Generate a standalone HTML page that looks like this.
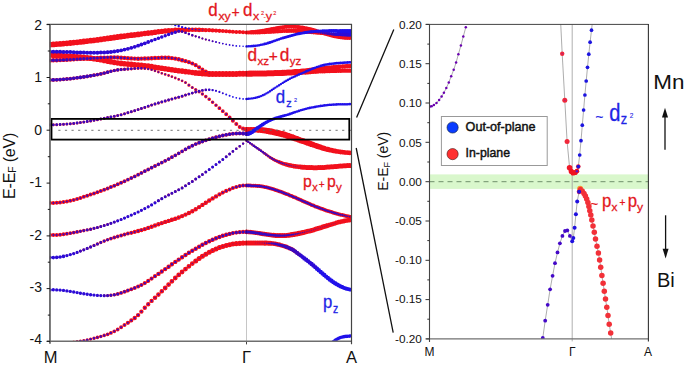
<!DOCTYPE html>
<html><head><meta charset="utf-8"><title>bands</title><style>html,body{margin:0;padding:0;background:#fff}svg{display:block}svg text{font-family:"Liberation Sans",sans-serif}</style></head><body>
<svg width="685" height="367" viewBox="0 0 685 367" font-family="Liberation Sans, sans-serif">
<rect width="100%" height="100%" fill="#fff"/>
<defs><clipPath id="cl"><rect x="49.7" y="24.4" width="302.2" height="316.8"/></clipPath><clipPath id="cr"><rect x="429.5" y="24.4" width="218.9" height="314.5"/></clipPath></defs>
<g clip-path="url(#cl)">
<path d="M236.3 45.9h0M239.7 46.1h0M229.6 95.8h0M250.1 133.1h0M329.7 279.5h0M331.5 280.8h0" stroke="#f2101c" stroke-width="0.4" stroke-linecap="round" fill="none" opacity="1.0"/>
<path d="M232.9 45.4h0M226.2 94.6h0M246.5 133.9h0M248.3 133.8h0M326.1 276.6h0M327.9 278.0h0" stroke="#f2101c" stroke-width="0.6" stroke-linecap="round" fill="none" opacity="1.0"/>
<path d="M229.6 44.9h0M222.8 93.2h0M322.5 273.5h0M324.3 275.0h0" stroke="#f2101c" stroke-width="0.8" stroke-linecap="round" fill="none" opacity="1.0"/>
<path d="M226.2 44.3h0M219.4 91.9h0M351.4 34.8h0M320.7 271.9h0" stroke="#f2101c" stroke-width="1.0" stroke-linecap="round" fill="none" opacity="1.0"/>
<path d="M222.8 43.6h0M216.0 90.8h0M50.0 290.0h0M53.3 289.8h0M56.7 289.9h0M60.1 290.1h0M63.5 290.4h0M66.9 290.9h0M70.3 291.4h0M73.7 292.0h0M349.6 34.8h0M318.8 270.3h0" stroke="#f2101c" stroke-width="1.2" stroke-linecap="round" fill="none" opacity="1.0"/>
<path d="M216.0 42.1h0M219.4 42.8h0M77.1 292.6h0M80.4 293.2h0M346.0 34.7h0M347.8 34.7h0M317.0 268.7h0" stroke="#f2101c" stroke-width="1.4" stroke-linecap="round" fill="none" opacity="1.0"/>
<path d="M212.6 41.2h0M212.6 90.1h0M50.0 257.6h0M53.3 257.6h0M83.8 293.8h0M87.2 294.3h0M344.2 34.6h0M315.2 267.1h0" stroke="#f2101c" stroke-width="1.6" stroke-linecap="round" fill="none" opacity="1.0"/>
<path d="M209.2 40.3h0M56.7 257.4h0M60.1 257.0h0M90.6 294.8h0M342.4 34.6h0M313.4 265.5h0" stroke="#f2101c" stroke-width="1.8" stroke-linecap="round" fill="none" opacity="1.0"/>
<path d="M202.4 38.4h0M205.8 39.4h0M209.2 89.8h0M63.5 256.4h0M94.0 295.1h0M340.5 34.5h0M311.6 264.0h0" stroke="#f2101c" stroke-width="2.0" stroke-linecap="round" fill="none" opacity="1.0"/>
<path d="M195.7 36.3h0M199.1 37.3h0M205.8 89.9h0M66.9 255.6h0M70.3 254.6h0M97.4 295.4h0M338.7 34.4h0M309.8 262.6h0" stroke="#f2101c" stroke-width="2.2" stroke-linecap="round" fill="none" opacity="1.0"/>
<path d="M182.1 31.6h0M185.5 32.8h0M188.9 34.0h0M192.3 35.2h0M199.1 91.2h0M202.4 90.4h0M114.3 222.1h0M117.7 220.8h0M121.1 219.5h0M124.5 218.1h0M127.9 216.6h0M131.3 215.1h0M134.7 213.6h0M138.1 212.0h0M141.4 210.3h0M144.8 208.6h0M148.2 206.8h0M151.6 204.9h0M155.0 202.8h0M202.4 174.4h0M205.8 172.0h0M209.2 169.6h0M212.6 167.1h0M216.0 164.6h0M219.4 162.0h0M222.8 159.4h0M226.2 156.7h0M229.6 154.0h0M232.9 151.4h0M236.3 148.8h0M239.7 146.2h0M243.1 143.6h0M246.5 140.8h0M73.7 253.6h0M100.8 295.6h0M335.1 34.3h0M336.9 34.4h0M246.5 140.7h0M248.3 141.9h0M250.1 143.2h0M251.9 144.4h0M308.0 261.1h0" stroke="#f2101c" stroke-width="2.4" stroke-linecap="round" fill="none" opacity="1.0"/>
<path d="M148.2 42.0h0M151.6 40.8h0M155.0 39.5h0M158.4 38.2h0M161.8 37.0h0M165.2 35.7h0M168.6 34.5h0M171.9 33.3h0M175.3 32.2h0M178.7 31.2h0M195.7 92.1h0M107.6 224.4h0M110.9 223.3h0M158.4 200.7h0M161.8 198.7h0M165.2 196.7h0M168.6 194.9h0M171.9 193.2h0M175.3 191.5h0M178.7 189.8h0M182.1 187.9h0M185.5 185.8h0M188.9 183.6h0M192.3 181.4h0M195.7 179.1h0M199.1 176.8h0M77.1 252.4h0M80.4 251.1h0M104.2 295.7h0M333.3 34.2h0M253.7 145.7h0M255.5 147.0h0M257.4 148.3h0M259.2 149.6h0M261.0 150.8h0M306.2 259.7h0" stroke="#f2101c" stroke-width="2.6" stroke-linecap="round" fill="none" opacity="1.0"/>
<path d="M50.0 51.8h0M53.3 51.8h0M56.7 51.8h0M60.1 51.8h0M63.5 51.9h0M66.9 52.0h0M70.3 52.1h0M73.7 52.3h0M77.1 52.4h0M80.4 52.5h0M83.8 52.6h0M87.2 52.7h0M90.6 52.7h0M94.0 52.7h0M97.4 52.7h0M100.8 52.6h0M104.2 52.4h0M107.6 52.2h0M110.9 51.9h0M114.3 51.5h0M117.7 51.0h0M121.1 50.4h0M124.5 49.6h0M127.9 48.8h0M131.3 47.8h0M134.7 46.8h0M138.1 45.7h0M141.4 44.5h0M144.8 43.3h0M148.2 68.9h0M151.6 69.7h0M155.0 70.8h0M158.4 72.1h0M161.8 73.3h0M165.2 74.4h0M168.6 75.5h0M171.9 76.7h0M175.3 78.0h0M178.7 79.4h0M182.1 80.8h0M188.9 94.1h0M192.3 93.1h0M104.2 225.5h0M83.8 249.8h0M87.2 248.4h0M331.5 34.1h0M262.8 152.1h0M264.6 153.4h0M304.4 258.4h0" stroke="#f2101c" stroke-width="2.8" stroke-linecap="round" fill="none" opacity="1.0"/>
<path d="M141.4 68.2h0M144.8 68.4h0M185.5 82.6h0M50.0 124.9h0M53.3 124.8h0M56.7 124.7h0M60.1 124.5h0M63.5 124.3h0M66.9 124.1h0M70.3 123.8h0M73.7 123.4h0M77.1 123.0h0M80.4 122.6h0M83.8 122.1h0M87.2 121.5h0M90.6 120.9h0M94.0 120.3h0M97.4 119.7h0M100.8 119.0h0M104.2 118.3h0M107.6 117.6h0M110.9 116.9h0M114.3 116.3h0M117.7 115.6h0M121.1 114.8h0M124.5 113.8h0M127.9 112.7h0M131.3 111.7h0M134.7 110.7h0M138.1 109.6h0M141.4 108.5h0M144.8 107.4h0M148.2 106.2h0M151.6 105.1h0M155.0 104.0h0M158.4 103.0h0M161.8 101.9h0M165.2 101.0h0M168.6 100.0h0M171.9 99.1h0M175.3 98.1h0M178.7 97.2h0M182.1 96.2h0M185.5 95.1h0M100.8 226.5h0M90.6 246.9h0M107.6 295.6h0M329.7 33.9h0M266.4 154.7h0M268.2 156.0h0M302.6 257.0h0" stroke="#f2101c" stroke-width="3.0" stroke-linecap="round" fill="none" opacity="1.0"/>
<path d="M131.3 68.8h0M134.7 68.5h0M138.1 68.3h0M188.9 85.2h0M192.3 87.5h0M94.0 228.3h0M97.4 227.5h0M94.0 245.4h0M327.9 33.8h0M270.0 157.3h0M271.8 158.4h0M300.8 255.6h0" stroke="#f2101c" stroke-width="3.2" stroke-linecap="round" fill="none" opacity="1.0"/>
<path d="M121.1 69.5h0M124.5 69.2h0M127.9 69.0h0M195.7 89.6h0M199.1 91.7h0M202.4 94.0h0M87.2 229.9h0M90.6 229.2h0M97.4 243.9h0M100.8 242.5h0M110.9 295.3h0M66.9 343.4h0M70.3 342.7h0M73.7 342.2h0M77.1 341.7h0M80.4 341.2h0M83.8 340.6h0M87.2 339.9h0M90.6 339.1h0M324.3 33.5h0M326.1 33.6h0M273.6 159.5h0M275.4 160.4h0M298.9 254.3h0" stroke="#f2101c" stroke-width="3.4" stroke-linecap="round" fill="none" opacity="1.0"/>
<path d="M110.9 71.3h0M114.3 70.5h0M117.7 69.9h0M205.8 96.6h0M209.2 99.3h0M212.6 102.2h0M216.0 105.2h0M80.4 231.3h0M83.8 230.6h0M104.2 241.1h0M107.6 239.8h0M114.3 294.7h0M94.0 338.3h0M97.4 337.4h0M100.8 336.5h0M104.2 335.4h0M322.5 33.3h0M277.2 161.3h0M297.1 252.9h0" stroke="#f2101c" stroke-width="3.6" stroke-linecap="round" fill="none" opacity="1.0"/>
<path d="M50.0 80.0h0M53.3 79.9h0M56.7 79.8h0M60.1 79.6h0M63.5 79.3h0M66.9 79.0h0M70.3 78.7h0M73.7 78.3h0M77.1 77.8h0M80.4 77.4h0M83.8 76.9h0M87.2 76.4h0M90.6 75.8h0M94.0 75.2h0M97.4 74.6h0M100.8 73.9h0M104.2 73.1h0M107.6 72.2h0M219.4 108.2h0M222.8 111.2h0M127.9 179.7h0M131.3 178.0h0M134.7 176.4h0M138.1 174.7h0M141.4 172.9h0M144.8 171.2h0M148.2 169.5h0M151.6 167.7h0M155.0 166.0h0M158.4 164.3h0M161.8 162.6h0M165.2 160.8h0M168.6 159.1h0M171.9 157.2h0M175.3 155.3h0M178.7 153.3h0M182.1 151.3h0M185.5 149.3h0M188.9 147.4h0M192.3 145.7h0M195.7 144.1h0M199.1 142.7h0M202.4 141.5h0M205.8 140.3h0M209.2 139.2h0M212.6 138.2h0M216.0 137.2h0M219.4 136.3h0M222.8 135.5h0M226.2 134.8h0M229.6 134.2h0M232.9 133.7h0M236.3 133.5h0M239.7 133.4h0M243.1 133.5h0M246.5 133.8h0M70.3 233.2h0M73.7 232.6h0M77.1 231.9h0M110.9 238.6h0M114.3 237.5h0M117.7 236.5h0M117.7 293.9h0M121.1 292.9h0M107.6 334.3h0M110.9 332.9h0M114.3 331.3h0M117.7 329.5h0M318.8 32.9h0M320.7 33.1h0M279.1 162.0h0" stroke="#f2101c" stroke-width="3.8" stroke-linecap="round" fill="none" opacity="1.0"/>
<path d="M222.8 31.0h0M226.2 31.2h0M229.6 31.4h0M232.9 31.7h0M236.3 31.9h0M239.7 32.1h0M243.1 32.3h0M246.5 32.4h0M202.4 69.4h0M205.8 71.5h0M209.2 73.1h0M226.2 114.2h0M229.6 117.4h0M232.9 120.8h0M236.3 124.1h0M239.7 126.9h0M50.0 203.0h0M53.3 203.0h0M56.7 202.8h0M60.1 202.5h0M63.5 202.0h0M66.9 201.4h0M70.3 200.7h0M73.7 199.9h0M77.1 198.9h0M80.4 197.9h0M83.8 196.8h0M87.2 195.7h0M90.6 194.5h0M94.0 193.4h0M97.4 192.2h0M100.8 190.9h0M104.2 189.7h0M107.6 188.5h0M110.9 187.1h0M114.3 185.8h0M117.7 184.3h0M121.1 182.8h0M124.5 181.3h0M50.0 235.0h0M53.3 235.1h0M56.7 235.0h0M60.1 234.7h0M63.5 234.3h0M66.9 233.8h0M121.1 235.5h0M124.5 234.5h0M127.9 233.6h0M229.6 189.4h0M232.9 188.0h0M236.3 186.9h0M239.7 186.1h0M243.1 185.6h0M246.5 185.5h0M124.5 291.7h0M127.9 290.4h0M131.3 289.2h0M134.7 287.9h0M121.1 327.3h0M124.5 325.1h0M246.5 32.4h0M248.3 32.4h0M250.1 32.3h0M246.5 32.6h0M248.3 32.6h0M250.1 32.6h0M251.9 32.6h0M253.7 32.6h0M255.5 32.5h0M257.4 32.5h0M259.2 32.4h0M261.0 32.3h0M262.8 32.3h0M264.6 32.2h0M266.4 32.1h0M268.2 32.0h0M270.0 31.9h0M271.8 31.8h0M273.6 31.7h0M275.4 31.6h0M277.2 31.4h0M279.1 31.3h0M280.9 31.2h0M282.7 31.1h0M284.5 31.0h0M286.3 30.9h0M315.2 32.5h0M317.0 32.7h0M280.9 162.8h0M282.7 163.4h0M246.5 185.5h0M248.3 185.5h0M250.1 185.6h0M251.9 185.7h0M253.7 185.7h0M255.5 185.8h0M257.4 186.0h0M259.2 186.1h0M261.0 186.3h0M262.8 186.6h0M264.6 186.9h0M266.4 187.3h0M268.2 187.7h0M270.0 188.2h0M271.8 188.7h0M273.6 189.3h0M275.4 189.9h0M277.2 190.5h0M279.1 191.2h0M280.9 191.8h0M282.7 192.5h0M284.5 193.2h0M286.3 193.9h0M288.1 194.6h0M289.9 195.4h0M291.7 196.1h0M293.5 196.9h0M295.3 197.6h0M297.1 198.4h0M298.9 199.3h0M300.8 200.1h0M302.6 200.9h0M304.4 201.7h0M306.2 202.5h0M308.0 203.3h0M309.8 204.1h0M311.6 204.9h0M313.4 205.6h0M315.2 206.4h0M317.0 207.1h0M318.8 207.8h0M320.7 208.4h0M322.5 209.1h0M324.3 209.8h0M326.1 210.4h0M327.9 211.0h0M329.7 211.6h0M331.5 212.1h0M333.3 212.7h0M335.1 213.2h0M336.9 213.7h0M338.7 214.2h0M340.5 214.7h0M342.4 215.1h0M344.2 215.5h0M346.0 215.9h0M347.8 216.3h0M349.6 216.7h0M351.4 217.0h0M295.3 251.5h0" stroke="#f2101c" stroke-width="4.0" stroke-linecap="round" fill="none" opacity="1.0"/>
<path d="M209.2 30.2h0M212.6 30.4h0M216.0 30.6h0M219.4 30.8h0M94.0 58.1h0M97.4 57.9h0M100.8 57.7h0M104.2 57.6h0M107.6 57.5h0M188.9 62.2h0M192.3 63.5h0M195.7 65.2h0M199.1 67.3h0M243.1 128.7h0M131.3 232.8h0M134.7 231.9h0M219.4 194.4h0M222.8 192.6h0M226.2 190.9h0M138.1 286.5h0M141.4 285.0h0M144.8 283.1h0M148.2 280.9h0M151.6 278.6h0M155.0 276.2h0M232.9 233.1h0M236.3 232.6h0M239.7 232.2h0M243.1 231.9h0M246.5 231.9h0M127.9 322.8h0M131.3 320.4h0M251.9 32.2h0M253.7 32.1h0M255.5 31.9h0M257.4 31.7h0M259.2 31.4h0M261.0 31.2h0M262.8 30.9h0M264.6 30.6h0M266.4 30.2h0M268.2 29.9h0M270.0 29.6h0M271.8 29.2h0M273.6 28.9h0M275.4 28.6h0M277.2 28.2h0M279.1 27.9h0M280.9 27.6h0M282.7 27.3h0M284.5 27.0h0M286.3 26.8h0M288.1 26.6h0M289.9 26.6h0M291.7 26.6h0M293.5 26.7h0M295.3 26.8h0M297.1 27.0h0M298.9 27.2h0M300.8 27.5h0M302.6 27.7h0M304.4 28.1h0M306.2 28.4h0M308.0 28.8h0M309.8 29.2h0M311.6 29.7h0M313.4 30.2h0M315.2 30.7h0M317.0 31.3h0M318.8 31.8h0M320.7 32.4h0M322.5 32.9h0M324.3 33.5h0M326.1 34.0h0M327.9 34.5h0M329.7 35.0h0M331.5 35.4h0M333.3 35.9h0M335.1 36.3h0M336.9 36.6h0M338.7 37.0h0M340.5 37.2h0M342.4 37.5h0M344.2 37.7h0M346.0 37.8h0M347.8 37.9h0M349.6 37.9h0M351.4 37.9h0M288.1 30.9h0M289.9 30.8h0M291.7 30.8h0M293.5 30.8h0M295.3 30.8h0M309.8 31.9h0M311.6 32.1h0M313.4 32.3h0M340.5 66.6h0M342.4 66.4h0M344.2 66.3h0M346.0 66.2h0M347.8 66.2h0M349.6 66.1h0M351.4 66.1h0M342.4 70.7h0M344.2 70.7h0M346.0 70.7h0M347.8 70.7h0M349.6 70.7h0M351.4 70.7h0M284.5 164.0h0M291.7 249.2h0M293.5 250.3h0" stroke="#f2101c" stroke-width="4.2" stroke-linecap="round" fill="none" opacity="1.0"/>
<path d="M202.4 29.9h0M205.8 30.1h0M50.0 60.4h0M53.3 60.3h0M56.7 60.2h0M60.1 60.1h0M63.5 59.9h0M66.9 59.7h0M70.3 59.5h0M73.7 59.3h0M77.1 59.1h0M80.4 58.9h0M83.8 58.7h0M87.2 58.5h0M90.6 58.3h0M110.9 57.4h0M114.3 57.4h0M117.7 57.5h0M121.1 57.7h0M124.5 57.9h0M127.9 58.2h0M131.3 58.4h0M134.7 58.6h0M138.1 58.7h0M141.4 58.6h0M144.8 58.5h0M148.2 58.4h0M151.6 58.2h0M155.0 58.0h0M158.4 57.9h0M161.8 57.7h0M165.2 57.7h0M168.6 57.8h0M171.9 58.1h0M175.3 58.6h0M178.7 59.3h0M182.1 60.2h0M185.5 61.1h0M138.1 231.0h0M141.4 230.1h0M144.8 229.1h0M148.2 227.9h0M151.6 226.8h0M155.0 225.5h0M158.4 224.3h0M161.8 223.1h0M165.2 221.9h0M168.6 220.9h0M171.9 219.8h0M175.3 218.7h0M178.7 217.5h0M182.1 216.1h0M185.5 214.6h0M188.9 213.0h0M192.3 211.2h0M195.7 209.2h0M199.1 207.1h0M202.4 204.9h0M205.8 202.7h0M209.2 200.5h0M212.6 198.4h0M216.0 196.4h0M158.4 273.9h0M161.8 271.5h0M165.2 269.1h0M168.6 266.7h0M171.9 264.3h0M175.3 261.9h0M178.7 259.6h0M182.1 257.3h0M185.5 255.0h0M188.9 252.8h0M192.3 250.7h0M195.7 248.7h0M199.1 246.7h0M202.4 244.8h0M205.8 243.0h0M209.2 241.3h0M212.6 239.7h0M216.0 238.3h0M219.4 237.0h0M222.8 235.8h0M226.2 234.8h0M229.6 233.9h0M134.7 318.0h0M138.1 315.1h0M141.4 311.6h0M144.8 307.8h0M148.2 304.2h0M151.6 300.9h0M297.1 30.9h0M298.9 31.0h0M300.8 31.1h0M302.6 31.2h0M304.4 31.3h0M306.2 31.5h0M308.0 31.7h0M329.7 67.7h0M331.5 67.5h0M333.3 67.3h0M335.1 67.1h0M336.9 66.9h0M338.7 66.7h0M326.1 71.1h0M327.9 71.0h0M329.7 71.0h0M331.5 70.9h0M333.3 70.9h0M335.1 70.9h0M336.9 70.8h0M338.7 70.8h0M340.5 70.8h0M286.3 164.5h0M288.1 165.0h0M288.1 247.6h0M289.9 248.4h0" stroke="#f2101c" stroke-width="4.4" stroke-linecap="round" fill="none" opacity="1.0"/>
<path d="M192.3 29.8h0M195.7 29.8h0M199.1 29.9h0M246.5 129.6h0M155.0 297.8h0M158.4 294.6h0M161.8 291.3h0M324.3 68.4h0M326.1 68.2h0M327.9 67.9h0M318.8 71.3h0M320.7 71.3h0M322.5 71.2h0M324.3 71.2h0M289.9 165.4h0M291.7 165.8h0M293.5 166.1h0M246.5 231.9h0M248.3 232.0h0M250.1 232.1h0M251.9 232.3h0M253.7 232.5h0M255.5 232.8h0M257.4 233.0h0M259.2 233.3h0M280.9 245.2h0M282.7 245.7h0M284.5 246.3h0M286.3 246.9h0" stroke="#f2101c" stroke-width="4.6" stroke-linecap="round" fill="none" opacity="1.0"/>
<path d="M185.5 29.9h0M188.9 29.8h0M165.2 288.0h0M168.6 284.6h0M171.9 281.3h0M175.3 278.0h0M178.7 274.9h0M182.1 272.0h0M185.5 269.1h0M188.9 266.3h0M192.3 263.6h0M318.8 69.2h0M320.7 68.9h0M322.5 68.7h0M313.4 71.6h0M315.2 71.5h0M317.0 71.4h0M336.9 151.4h0M338.7 151.7h0M340.5 152.0h0M342.4 152.2h0M344.2 152.4h0M346.0 152.6h0M347.8 152.7h0M349.6 152.8h0M351.4 152.9h0M295.3 166.4h0M297.1 166.6h0M298.9 166.8h0M300.8 167.0h0M261.0 233.6h0M262.8 233.9h0M264.6 234.1h0M266.4 234.4h0M268.2 234.7h0M270.0 234.9h0M271.8 235.1h0M327.9 225.5h0M329.7 224.9h0M331.5 224.4h0M333.3 223.8h0M335.1 223.3h0M336.9 222.7h0M338.7 222.2h0M340.5 221.8h0M342.4 221.3h0M344.2 221.0h0M346.0 220.6h0M347.8 220.3h0M349.6 220.1h0M351.4 220.0h0M271.8 243.4h0M273.6 243.6h0M275.4 243.9h0M277.2 244.3h0M279.1 244.7h0" stroke="#f2101c" stroke-width="4.8" stroke-linecap="round" fill="none" opacity="1.0"/>
<path d="M178.7 30.1h0M182.1 30.0h0M195.7 261.0h0M199.1 258.6h0M202.4 256.3h0M205.8 254.2h0M209.2 252.2h0M212.6 250.4h0M216.0 248.9h0M219.4 247.5h0M222.8 246.4h0M226.2 245.4h0M229.6 244.7h0M232.9 244.1h0M315.2 69.7h0M317.0 69.4h0M311.6 71.6h0M246.5 129.5h0M329.7 149.9h0M331.5 150.3h0M333.3 150.7h0M335.1 151.1h0M302.6 167.2h0M304.4 167.3h0M306.2 167.4h0M308.0 167.5h0M309.8 167.6h0M311.6 167.6h0M313.4 167.7h0M315.2 167.7h0M317.0 167.7h0M318.8 167.6h0M320.7 167.6h0M322.5 167.5h0M324.3 167.4h0M326.1 167.3h0M327.9 167.1h0M329.7 167.0h0M331.5 166.8h0M333.3 166.7h0M335.1 166.5h0M336.9 166.4h0M338.7 166.2h0M340.5 166.1h0M342.4 165.9h0M344.2 165.8h0M346.0 165.7h0M347.8 165.6h0M349.6 165.5h0M351.4 165.5h0M273.6 235.3h0M275.4 235.4h0M277.2 235.5h0M279.1 235.6h0M280.9 235.6h0M282.7 235.6h0M284.5 235.5h0M286.3 235.4h0M288.1 235.2h0M304.4 232.2h0M306.2 231.8h0M308.0 231.3h0M309.8 230.9h0M311.6 230.4h0M313.4 229.9h0M315.2 229.3h0M317.0 228.8h0M318.8 228.3h0M320.7 227.7h0M322.5 227.1h0M324.3 226.6h0M326.1 226.0h0M266.4 243.1h0M268.2 243.2h0M270.0 243.3h0" stroke="#f2101c" stroke-width="5.0" stroke-linecap="round" fill="none" opacity="1.0"/>
<path d="M168.6 30.7h0M171.9 30.5h0M175.3 30.2h0M236.3 243.6h0M239.7 243.3h0M243.1 243.1h0M246.5 243.0h0M311.6 70.2h0M313.4 69.9h0M306.2 71.9h0M308.0 71.8h0M309.8 71.7h0M248.3 129.5h0M250.1 129.5h0M324.3 148.4h0M326.1 149.0h0M327.9 149.4h0M289.9 235.0h0M291.7 234.7h0M293.5 234.4h0M295.3 234.1h0M297.1 233.8h0M298.9 233.4h0M300.8 233.0h0M302.6 232.6h0M246.5 243.0h0M248.3 243.0h0M250.1 243.0h0M251.9 243.0h0M253.7 243.0h0M255.5 243.0h0M257.4 243.0h0M259.2 243.0h0M261.0 243.0h0M262.8 243.0h0M264.6 243.1h0" stroke="#f2101c" stroke-width="5.2" stroke-linecap="round" fill="none" opacity="1.0"/>
<path d="M158.4 31.8h0M161.8 31.4h0M165.2 31.0h0M304.4 71.1h0M306.2 70.9h0M308.0 70.7h0M309.8 70.4h0M300.8 72.1h0M302.6 72.0h0M304.4 71.9h0M251.9 129.6h0M253.7 129.6h0M318.8 146.7h0M320.7 147.3h0M322.5 147.9h0" stroke="#f2101c" stroke-width="5.4" stroke-linecap="round" fill="none" opacity="1.0"/>
<path d="M141.4 34.0h0M144.8 33.5h0M148.2 33.1h0M151.6 32.7h0M155.0 32.3h0M94.0 58.7h0M97.4 59.2h0M100.8 59.8h0M104.2 60.4h0M107.6 61.1h0M110.9 61.8h0M114.3 62.5h0M117.7 63.0h0M121.1 63.4h0M124.5 63.7h0M127.9 64.1h0M131.3 64.4h0M134.7 64.7h0M138.1 65.0h0M141.4 65.3h0M144.8 65.7h0M148.2 66.1h0M151.6 66.6h0M155.0 67.2h0M158.4 67.7h0M161.8 68.2h0M165.2 68.8h0M168.6 69.3h0M171.9 69.8h0M175.3 70.2h0M178.7 70.7h0M182.1 71.1h0M185.5 71.6h0M188.9 72.0h0M192.3 72.5h0M297.1 71.8h0M298.9 71.7h0M300.8 71.5h0M302.6 71.3h0M295.3 72.4h0M297.1 72.3h0M298.9 72.2h0M255.5 129.7h0M257.4 129.8h0M313.4 144.8h0M315.2 145.5h0M317.0 146.1h0" stroke="#f2101c" stroke-width="5.6" stroke-linecap="round" fill="none" opacity="1.0"/>
<path d="M50.0 44.6h0M53.3 44.4h0M56.7 44.1h0M60.1 43.9h0M63.5 43.6h0M66.9 43.3h0M70.3 43.0h0M73.7 42.6h0M77.1 42.3h0M80.4 41.9h0M83.8 41.5h0M87.2 41.1h0M90.6 40.7h0M94.0 40.3h0M97.4 39.9h0M100.8 39.4h0M104.2 38.9h0M107.6 38.4h0M110.9 38.0h0M114.3 37.5h0M117.7 37.0h0M121.1 36.5h0M124.5 36.1h0M127.9 35.6h0M131.3 35.2h0M134.7 34.8h0M138.1 34.4h0M50.0 54.9h0M53.3 55.2h0M56.7 55.4h0M60.1 55.7h0M63.5 55.9h0M66.9 56.1h0M70.3 56.4h0M73.7 56.6h0M77.1 56.9h0M80.4 57.2h0M83.8 57.5h0M87.2 57.8h0M90.6 58.2h0M195.7 72.9h0M199.1 73.2h0M202.4 73.5h0M205.8 73.7h0M284.5 72.7h0M286.3 72.6h0M288.1 72.5h0M289.9 72.4h0M291.7 72.3h0M293.5 72.1h0M295.3 72.0h0M284.5 72.8h0M286.3 72.8h0M288.1 72.7h0M289.9 72.6h0M291.7 72.5h0M293.5 72.4h0M259.2 129.9h0M261.0 130.1h0M304.4 141.6h0M306.2 142.3h0M308.0 142.9h0M309.8 143.5h0M311.6 144.2h0" stroke="#f2101c" stroke-width="5.8" stroke-linecap="round" fill="none" opacity="1.0"/>
<path d="M209.2 73.9h0M212.6 74.0h0M216.0 74.0h0M219.4 74.0h0M222.8 74.1h0M226.2 74.0h0M229.6 74.0h0M232.9 74.0h0M236.3 73.9h0M239.7 73.8h0M243.1 73.8h0M246.5 73.7h0M246.5 73.7h0M248.3 73.7h0M250.1 73.6h0M251.9 73.6h0M253.7 73.6h0M255.5 73.6h0M257.4 73.5h0M259.2 73.5h0M261.0 73.5h0M262.8 73.5h0M264.6 73.4h0M266.4 73.4h0M268.2 73.3h0M270.0 73.3h0M271.8 73.2h0M273.6 73.2h0M275.4 73.1h0M277.2 73.1h0M279.1 73.0h0M280.9 72.9h0M282.7 72.8h0M246.5 73.7h0M248.3 73.7h0M250.1 73.7h0M251.9 73.7h0M253.7 73.6h0M255.5 73.6h0M257.4 73.6h0M259.2 73.5h0M261.0 73.5h0M262.8 73.5h0M264.6 73.4h0M266.4 73.4h0M268.2 73.3h0M270.0 73.3h0M271.8 73.2h0M273.6 73.2h0M275.4 73.1h0M277.2 73.1h0M279.1 73.0h0M280.9 73.0h0M282.7 72.9h0M262.8 130.2h0M264.6 130.5h0M266.4 130.7h0M293.5 137.8h0M295.3 138.5h0M297.1 139.1h0M298.9 139.8h0M300.8 140.4h0M302.6 141.0h0" stroke="#f2101c" stroke-width="6.0" stroke-linecap="round" fill="none" opacity="1.0"/>
<path d="M268.2 131.0h0M270.0 131.4h0M271.8 131.7h0M273.6 132.1h0M275.4 132.5h0M277.2 132.9h0M279.1 133.3h0M280.9 133.8h0M282.7 134.2h0M284.5 134.7h0M286.3 135.3h0M288.1 135.9h0M289.9 136.5h0M291.7 137.1h0" stroke="#f2101c" stroke-width="6.2" stroke-linecap="round" fill="none" opacity="1.0"/>
<path d="M202.4 30.0h0" stroke="#2010ea" stroke-width="1.0" stroke-linecap="round" fill="none" opacity="1"/>
<path d="M199.1 29.8h0" stroke="#2010ea" stroke-width="1.4" stroke-linecap="round" fill="none" opacity="1"/>
<path d="M239.7 46.1h0M243.1 46.3h0M246.5 46.4h0M195.7 29.6h0" stroke="#2010ea" stroke-width="1.6" stroke-linecap="round" fill="none" opacity="1"/>
<path d="M236.3 45.9h0M192.3 29.1h0M232.9 96.9h0M236.3 97.8h0M239.7 98.5h0M243.1 98.9h0M246.5 99.0h0" stroke="#2010ea" stroke-width="1.8" stroke-linecap="round" fill="none" opacity="1"/>
<path d="M188.9 28.4h0M226.2 94.6h0M229.6 95.8h0" stroke="#2010ea" stroke-width="2.0" stroke-linecap="round" fill="none" opacity="1"/>
<path d="M185.5 27.9h0" stroke="#2010ea" stroke-width="2.2" stroke-linecap="round" fill="none" opacity="1"/>
<path d="M171.9 24.0h0M175.3 25.0h0M178.7 26.0h0M182.1 27.1h0M246.5 46.4h0M248.3 46.3h0M246.5 99.0h0M248.3 98.8h0M250.1 98.6h0M251.9 98.4h0M253.7 98.1h0M255.5 97.7h0M257.4 97.3h0M259.2 96.7h0M261.0 96.1h0M262.8 95.3h0M264.6 94.5h0M266.4 93.4h0M268.2 92.4h0M270.0 91.2h0M271.8 90.0h0M273.6 88.8h0M275.4 87.6h0M277.2 86.4h0M279.1 85.3h0M280.9 84.1h0M282.7 82.9h0M284.5 81.8h0M286.3 80.7h0M288.1 79.7h0M289.9 78.7h0M291.7 77.8h0M293.5 77.0h0M295.3 76.2h0M297.1 75.4h0" stroke="#2010ea" stroke-width="2.4" stroke-linecap="round" fill="none" opacity="1"/>
<path d="M250.1 46.2h0M251.9 46.1h0M253.7 45.9h0M255.5 45.7h0M257.4 45.5h0M259.2 45.2h0M261.0 44.8h0M262.8 44.5h0M298.9 74.6h0M300.8 73.8h0M302.6 73.0h0M304.4 72.2h0M306.2 71.4h0M308.0 70.6h0M309.8 69.9h0M311.6 69.1h0M313.4 68.4h0M315.2 67.7h0M317.0 67.0h0M318.8 66.5h0M297.1 111.5h0M298.9 110.9h0M300.8 110.3h0M302.6 109.7h0M304.4 109.2h0M306.2 108.8h0M308.0 108.3h0M309.8 107.9h0M311.6 107.5h0M313.4 107.2h0M315.2 106.9h0M317.0 106.5h0M318.8 106.2h0M320.7 105.9h0M322.5 105.7h0M324.3 105.4h0M326.1 105.2h0M327.9 105.0h0M329.7 104.8h0M331.5 104.7h0M333.3 104.6h0M335.1 104.5h0M336.9 104.4h0M338.7 104.3h0M340.5 104.3h0M342.4 104.3h0M344.2 104.2h0M346.0 104.2h0M347.8 104.2h0M349.6 104.1h0M351.4 104.1h0" stroke="#2010ea" stroke-width="2.6" stroke-linecap="round" fill="none" opacity="1"/>
<path d="M264.6 44.0h0M266.4 43.6h0M268.2 43.0h0M270.0 42.5h0M271.8 41.9h0M273.6 41.2h0M275.4 40.6h0M277.2 39.9h0M279.1 39.3h0M280.9 38.6h0M320.7 65.9h0M322.5 65.4h0M324.3 65.0h0M326.1 64.6h0M327.9 64.3h0M329.7 64.0h0M331.5 63.8h0M333.3 63.6h0M335.1 63.4h0M336.9 63.2h0M338.7 63.1h0M340.5 62.9h0M342.4 62.8h0M344.2 62.7h0M346.0 62.6h0M347.8 62.5h0M349.6 62.3h0M286.3 115.1h0M288.1 114.6h0M289.9 114.0h0M291.7 113.4h0M293.5 112.7h0M295.3 112.1h0" stroke="#2010ea" stroke-width="2.8" stroke-linecap="round" fill="none" opacity="1"/>
<path d="M282.7 38.1h0M284.5 37.5h0M286.3 37.0h0M288.1 36.5h0M289.9 36.0h0M291.7 35.5h0M293.5 35.0h0M295.3 34.5h0M297.1 34.1h0M351.4 62.2h0M279.1 117.0h0M280.9 116.5h0M282.7 116.0h0M284.5 115.6h0" stroke="#2010ea" stroke-width="3.0" stroke-linecap="round" fill="none" opacity="1"/>
<path d="M298.9 33.7h0M300.8 33.3h0M302.6 33.0h0M304.4 32.7h0M306.2 32.4h0M308.0 32.1h0M309.8 31.9h0M273.6 118.9h0M275.4 118.2h0M277.2 117.6h0" stroke="#2010ea" stroke-width="3.2" stroke-linecap="round" fill="none" opacity="1"/>
<path d="M311.6 31.7h0M313.4 31.6h0M315.2 31.4h0M268.2 121.3h0M270.0 120.4h0M271.8 119.6h0" stroke="#2010ea" stroke-width="3.4" stroke-linecap="round" fill="none" opacity="1"/>
<path d="M317.0 31.3h0M318.8 31.2h0M320.7 31.2h0M322.5 31.1h0M264.6 123.3h0M266.4 122.3h0M331.5 343.2h0M333.3 341.7h0M335.1 340.4h0M336.9 339.2h0M338.7 338.2h0M340.5 337.5h0M342.4 337.0h0M344.2 336.6h0M346.0 336.4h0M347.8 336.2h0M349.6 336.1h0M351.4 335.9h0" stroke="#2010ea" stroke-width="3.6" stroke-linecap="round" fill="none" opacity="1"/>
<path d="M324.3 31.1h0M326.1 31.1h0M327.9 31.1h0M259.2 126.8h0M261.0 125.6h0M262.8 124.4h0" stroke="#2010ea" stroke-width="3.8" stroke-linecap="round" fill="none" opacity="1"/>
<path d="M349.6 34.8h0M351.4 34.8h0M329.7 31.1h0M331.5 31.1h0M333.3 31.1h0M335.1 31.1h0M336.9 31.1h0M338.7 31.2h0M255.5 129.5h0M257.4 128.1h0M347.8 289.1h0M349.6 289.5h0M351.4 289.8h0" stroke="#2010ea" stroke-width="4.0" stroke-linecap="round" fill="none" opacity="1"/>
<path d="M340.5 31.2h0M342.4 31.2h0M344.2 31.2h0M346.0 31.2h0M347.8 31.2h0M349.6 31.2h0M351.4 31.2h0M246.5 133.9h0M253.7 130.8h0M336.9 284.4h0M338.7 285.4h0M340.5 286.4h0M342.4 287.2h0M344.2 288.0h0M346.0 288.6h0" stroke="#2010ea" stroke-width="4.2" stroke-linecap="round" fill="none" opacity="1"/>
<path d="M248.3 133.8h0M250.1 133.1h0M251.9 132.1h0M317.0 268.7h0M318.8 270.3h0M320.7 271.9h0M322.5 273.5h0M324.3 275.0h0M326.1 276.6h0M327.9 278.0h0M329.7 279.5h0M331.5 280.8h0M333.3 282.1h0M335.1 283.3h0" stroke="#2010ea" stroke-width="4.4" stroke-linecap="round" fill="none" opacity="1"/>
<path d="M219.4 42.8h0M222.8 43.6h0M226.2 44.3h0M229.6 44.9h0M232.9 45.4h0" stroke="#2c0ad6" stroke-width="1.8" stroke-linecap="round" fill="none" opacity="1"/>
<path d="M216.0 42.1h0M222.8 93.2h0" stroke="#2c0ad6" stroke-width="2.0" stroke-linecap="round" fill="none" opacity="1"/>
<path d="M216.0 90.8h0M219.4 91.9h0" stroke="#2c0ad6" stroke-width="2.2" stroke-linecap="round" fill="none" opacity="1"/>
<path d="M212.6 90.1h0" stroke="#2c0ad6" stroke-width="2.4" stroke-linecap="round" fill="none" opacity="1"/>
<path d="M209.2 89.8h0" stroke="#2c0ad6" stroke-width="2.6" stroke-linecap="round" fill="none" opacity="1"/>
<path d="M209.2 169.6h0M212.6 167.1h0M216.0 164.6h0M219.4 162.0h0M222.8 159.4h0" stroke="#2c0ad6" stroke-width="3.0" stroke-linecap="round" fill="none" opacity="1"/>
<path d="M117.7 220.8h0M121.1 219.5h0M124.5 218.1h0M127.9 216.6h0M131.3 215.1h0M134.7 213.6h0M138.1 212.0h0M141.4 210.3h0M144.8 208.6h0M148.2 206.8h0M151.6 204.9h0M155.0 202.8h0M77.1 252.4h0M97.4 295.4h0M100.8 295.6h0M335.1 34.3h0" stroke="#2c0ad6" stroke-width="3.2" stroke-linecap="round" fill="none" opacity="1"/>
<path d="M165.2 35.7h0M168.6 34.5h0M171.9 33.3h0M175.3 32.2h0M66.9 255.6h0M70.3 254.6h0M73.7 253.6h0M50.0 290.0h0M53.3 289.8h0M56.7 289.9h0M60.1 290.1h0M63.5 290.4h0M66.9 290.9h0M70.3 291.4h0M73.7 292.0h0M77.1 292.6h0M80.4 293.2h0M83.8 293.8h0M87.2 294.3h0M90.6 294.8h0M94.0 295.1h0M336.9 34.4h0" stroke="#2c0ad6" stroke-width="3.4" stroke-linecap="round" fill="none" opacity="1"/>
<path d="M151.6 40.8h0M155.0 39.5h0M158.4 38.2h0M161.8 37.0h0M50.0 257.6h0M53.3 257.6h0M56.7 257.4h0M60.1 257.0h0M63.5 256.4h0M338.7 34.4h0M340.5 34.5h0" stroke="#2c0ad6" stroke-width="3.6" stroke-linecap="round" fill="none" opacity="1"/>
<path d="M117.7 51.0h0M121.1 50.4h0M124.5 49.6h0M127.9 48.8h0M131.3 47.8h0M134.7 46.8h0M138.1 45.7h0M141.4 44.5h0M144.8 43.3h0M148.2 42.0h0M342.4 34.6h0M344.2 34.6h0M346.0 34.7h0" stroke="#2c0ad6" stroke-width="3.8" stroke-linecap="round" fill="none" opacity="1"/>
<path d="M50.0 51.8h0M53.3 51.8h0M56.7 51.8h0M60.1 51.8h0M63.5 51.9h0M66.9 52.0h0M70.3 52.1h0M73.7 52.3h0M77.1 52.4h0M80.4 52.5h0M83.8 52.6h0M87.2 52.7h0M90.6 52.7h0M94.0 52.7h0M97.4 52.7h0M100.8 52.6h0M104.2 52.4h0M107.6 52.2h0M110.9 51.9h0M114.3 51.5h0M347.8 34.7h0" stroke="#2c0ad6" stroke-width="4.0" stroke-linecap="round" fill="none" opacity="1"/>
<path d="M300.8 255.6h0M302.6 257.0h0" stroke="#2c0ad6" stroke-width="4.2" stroke-linecap="round" fill="none" opacity="1"/>
<path d="M304.4 258.4h0M306.2 259.7h0M308.0 261.1h0M309.8 262.6h0M311.6 264.0h0M313.4 265.5h0M315.2 267.1h0" stroke="#2c0ad6" stroke-width="4.4" stroke-linecap="round" fill="none" opacity="1"/>
<path d="M236.3 243.6h0M239.7 243.3h0M309.8 31.9h0M298.9 166.8h0M300.8 167.0h0M327.9 225.5h0M329.7 224.9h0M331.5 224.4h0M333.3 223.8h0M335.1 223.3h0M255.5 243.0h0M257.4 243.0h0" stroke="#3a08be" stroke-width="0.4" stroke-linecap="round" fill="none" opacity="1"/>
<path d="M246.5 129.6h0M226.2 245.4h0M229.6 244.7h0M232.9 244.1h0M311.6 32.1h0M297.1 166.6h0M317.0 228.8h0M318.8 228.3h0M320.7 227.7h0M322.5 227.1h0M324.3 226.6h0M326.1 226.0h0M259.2 243.0h0M261.0 243.0h0" stroke="#3a08be" stroke-width="0.6" stroke-linecap="round" fill="none" opacity="1"/>
<path d="M209.2 73.1h0M182.1 216.1h0M185.5 214.6h0M188.9 213.0h0M192.3 211.2h0M195.7 209.2h0M209.2 252.2h0M212.6 250.4h0M216.0 248.9h0M219.4 247.5h0M222.8 246.4h0M313.4 32.3h0M293.5 166.1h0M295.3 166.4h0M311.6 230.4h0M313.4 229.9h0M315.2 229.3h0M262.8 243.0h0" stroke="#3a08be" stroke-width="0.8" stroke-linecap="round" fill="none" opacity="1"/>
<path d="M165.2 221.9h0M168.6 220.9h0M171.9 219.8h0M175.3 218.7h0M178.7 217.5h0M199.1 207.1h0M202.4 204.9h0M205.8 202.7h0M195.7 261.0h0M199.1 258.6h0M202.4 256.3h0M205.8 254.2h0M315.2 32.5h0M291.7 165.8h0M306.2 231.8h0M308.0 231.3h0M309.8 230.9h0" stroke="#3a08be" stroke-width="1.0" stroke-linecap="round" fill="none" opacity="1"/>
<path d="M205.8 71.5h0M243.1 128.7h0M158.4 224.3h0M161.8 223.1h0M209.2 200.5h0M212.6 198.4h0M182.1 272.0h0M185.5 269.1h0M188.9 266.3h0M192.3 263.6h0M317.0 32.7h0M289.9 165.4h0M304.4 232.2h0M264.6 243.1h0" stroke="#3a08be" stroke-width="1.2" stroke-linecap="round" fill="none" opacity="1"/>
<path d="M202.4 69.4h0M239.7 126.9h0M151.6 226.8h0M155.0 225.5h0M216.0 196.4h0M168.6 284.6h0M171.9 281.3h0M175.3 278.0h0M178.7 274.9h0M318.8 32.9h0M286.3 164.5h0M288.1 165.0h0M351.4 217.0h0M300.8 233.0h0M302.6 232.6h0M266.4 243.1h0" stroke="#3a08be" stroke-width="1.4" stroke-linecap="round" fill="none" opacity="1"/>
<path d="M161.8 73.3h0M165.2 74.4h0M168.6 75.5h0M171.9 76.7h0M175.3 78.0h0M178.7 79.4h0M182.1 80.8h0M232.9 120.8h0M236.3 124.1h0M144.8 229.1h0M148.2 227.9h0M219.4 194.4h0M155.0 297.8h0M158.4 294.6h0M161.8 291.3h0M165.2 288.0h0M320.7 33.1h0M284.5 164.0h0M347.8 216.3h0M349.6 216.7h0M298.9 233.4h0M268.2 243.2h0" stroke="#3a08be" stroke-width="1.6" stroke-linecap="round" fill="none" opacity="1"/>
<path d="M195.7 65.2h0M199.1 67.3h0M155.0 70.8h0M158.4 72.1h0M185.5 82.6h0M188.9 85.2h0M192.3 87.5h0M195.7 89.6h0M199.1 91.7h0M202.4 94.0h0M205.8 96.6h0M209.2 99.3h0M212.6 102.2h0M216.0 105.2h0M219.4 108.2h0M222.8 111.2h0M226.2 114.2h0M229.6 117.4h0M50.0 203.0h0M53.3 203.0h0M56.7 202.8h0M60.1 202.5h0M63.5 202.0h0M66.9 201.4h0M138.1 231.0h0M141.4 230.1h0M222.8 192.6h0M141.4 311.6h0M144.8 307.8h0M148.2 304.2h0M151.6 300.9h0M322.5 33.3h0M280.9 162.8h0M282.7 163.4h0M344.2 215.5h0M346.0 215.9h0M295.3 234.1h0M297.1 233.8h0M270.0 243.3h0" stroke="#3a08be" stroke-width="1.8" stroke-linecap="round" fill="none" opacity="1"/>
<path d="M202.4 38.4h0M205.8 39.4h0M209.2 40.3h0M212.6 41.2h0M185.5 61.1h0M188.9 62.2h0M192.3 63.5h0M148.2 68.9h0M151.6 69.7h0M70.3 200.7h0M73.7 199.9h0M77.1 198.9h0M80.4 197.9h0M83.8 196.8h0M50.0 235.0h0M53.3 235.1h0M56.7 235.0h0M134.7 231.9h0M226.2 190.9h0M229.6 189.4h0M124.5 325.1h0M127.9 322.8h0M131.3 320.4h0M134.7 318.0h0M138.1 315.1h0M324.3 33.5h0M275.4 160.4h0M277.2 161.3h0M279.1 162.0h0M338.7 214.2h0M340.5 214.7h0M342.4 215.1h0M289.9 235.0h0M291.7 234.7h0M293.5 234.4h0" stroke="#3a08be" stroke-width="2.0" stroke-linecap="round" fill="none" opacity="1"/>
<path d="M195.7 36.3h0M199.1 37.3h0M127.9 58.2h0M131.3 58.4h0M134.7 58.6h0M138.1 58.7h0M141.4 58.6h0M144.8 58.5h0M148.2 58.4h0M151.6 58.2h0M155.0 58.0h0M158.4 57.9h0M161.8 57.7h0M165.2 57.7h0M168.6 57.8h0M171.9 58.1h0M175.3 58.6h0M178.7 59.3h0M182.1 60.2h0M144.8 68.4h0M87.2 195.7h0M90.6 194.5h0M94.0 193.4h0M97.4 192.2h0M100.8 190.9h0M60.1 234.7h0M63.5 234.3h0M246.5 140.8h0M131.3 232.8h0M232.9 188.0h0M107.6 334.3h0M110.9 332.9h0M114.3 331.3h0M117.7 329.5h0M121.1 327.3h0M326.1 33.6h0M246.5 140.7h0M248.3 141.9h0M250.1 143.2h0M251.9 144.4h0M266.4 154.7h0M268.2 156.0h0M270.0 157.3h0M271.8 158.4h0M273.6 159.5h0M320.7 208.4h0M322.5 209.1h0M324.3 209.8h0M326.1 210.4h0M327.9 211.0h0M329.7 211.6h0M331.5 212.1h0M333.3 212.7h0M335.1 213.2h0M336.9 213.7h0M286.3 235.4h0M288.1 235.2h0M271.8 243.4h0" stroke="#3a08be" stroke-width="2.2" stroke-linecap="round" fill="none" opacity="1"/>
<path d="M188.9 34.0h0M192.3 35.2h0M121.1 57.7h0M124.5 57.9h0M141.4 68.2h0M104.2 189.7h0M107.6 188.5h0M66.9 233.8h0M70.3 233.2h0M243.1 143.6h0M121.1 235.5h0M124.5 234.5h0M127.9 233.6h0M236.3 186.9h0M138.1 286.5h0M141.4 285.0h0M144.8 283.1h0M148.2 280.9h0M151.6 278.6h0M155.0 276.2h0M158.4 273.9h0M161.8 271.5h0M165.2 269.1h0M168.6 266.7h0M171.9 264.3h0M175.3 261.9h0M178.7 259.6h0M182.1 257.3h0M185.5 255.0h0M66.9 343.4h0M70.3 342.7h0M73.7 342.2h0M77.1 341.7h0M80.4 341.2h0M83.8 340.6h0M87.2 339.9h0M90.6 339.1h0M94.0 338.3h0M97.4 337.4h0M100.8 336.5h0M104.2 335.4h0M327.9 33.8h0M253.7 145.7h0M255.5 147.0h0M257.4 148.3h0M259.2 149.6h0M261.0 150.8h0M262.8 152.1h0M264.6 153.4h0M261.0 186.3h0M262.8 186.6h0M264.6 186.9h0M266.4 187.3h0M268.2 187.7h0M270.0 188.2h0M271.8 188.7h0M273.6 189.3h0M275.4 189.9h0M277.2 190.5h0M279.1 191.2h0M280.9 191.8h0M282.7 192.5h0M284.5 193.2h0M286.3 193.9h0M288.1 194.6h0M289.9 195.4h0M291.7 196.1h0M293.5 196.9h0M295.3 197.6h0M297.1 198.4h0M298.9 199.3h0M300.8 200.1h0M302.6 200.9h0M304.4 201.7h0M306.2 202.5h0M308.0 203.3h0M309.8 204.1h0M311.6 204.9h0M313.4 205.6h0M315.2 206.4h0M317.0 207.1h0M318.8 207.8h0M280.9 235.6h0M282.7 235.6h0M284.5 235.5h0M273.6 243.6h0" stroke="#3a08be" stroke-width="2.4" stroke-linecap="round" fill="none" opacity="1"/>
<path d="M185.5 32.8h0M114.3 57.4h0M117.7 57.5h0M134.7 68.5h0M138.1 68.3h0M205.8 89.9h0M110.9 187.1h0M114.3 185.8h0M117.7 184.3h0M73.7 232.6h0M77.1 231.9h0M236.3 148.8h0M239.7 146.2h0M110.9 238.6h0M114.3 237.5h0M117.7 236.5h0M239.7 186.1h0M243.1 185.6h0M127.9 290.4h0M131.3 289.2h0M134.7 287.9h0M188.9 252.8h0M192.3 250.7h0M195.7 248.7h0M199.1 246.7h0M329.7 33.9h0M251.9 185.7h0M253.7 185.7h0M255.5 185.8h0M257.4 186.0h0M259.2 186.1h0M275.4 235.4h0M277.2 235.5h0M279.1 235.6h0M275.4 243.9h0" stroke="#3a08be" stroke-width="2.6" stroke-linecap="round" fill="none" opacity="1"/>
<path d="M182.1 31.6h0M107.6 57.5h0M110.9 57.4h0M127.9 69.0h0M131.3 68.8h0M50.0 124.9h0M53.3 124.8h0M56.7 124.7h0M60.1 124.5h0M63.5 124.3h0M66.9 124.1h0M70.3 123.8h0M73.7 123.4h0M77.1 123.0h0M80.4 122.6h0M83.8 122.1h0M87.2 121.5h0M90.6 120.9h0M94.0 120.3h0M97.4 119.7h0M100.8 119.0h0M104.2 118.3h0M107.6 117.6h0M110.9 116.9h0M114.3 116.3h0M117.7 115.6h0M121.1 114.8h0M124.5 113.8h0M127.9 112.7h0M131.3 111.7h0M134.7 110.7h0M138.1 109.6h0M141.4 108.5h0M144.8 107.4h0M148.2 106.2h0M151.6 105.1h0M155.0 104.0h0M158.4 103.0h0M161.8 101.9h0M165.2 101.0h0M168.6 100.0h0M171.9 99.1h0M175.3 98.1h0M178.7 97.2h0M182.1 96.2h0M185.5 95.1h0M188.9 94.1h0M192.3 93.1h0M195.7 92.1h0M199.1 91.2h0M202.4 90.4h0M121.1 182.8h0M124.5 181.3h0M127.9 179.7h0M80.4 231.3h0M83.8 230.6h0M87.2 229.9h0M232.9 151.4h0M100.8 242.5h0M104.2 241.1h0M107.6 239.8h0M246.5 185.5h0M121.1 292.9h0M124.5 291.7h0M202.4 244.8h0M205.8 243.0h0M209.2 241.3h0M212.6 239.7h0M216.0 238.3h0M219.4 237.0h0M222.8 235.8h0M226.2 234.8h0M229.6 233.9h0M331.5 34.1h0M246.5 185.5h0M248.3 185.5h0M250.1 185.6h0M270.0 234.9h0M271.8 235.1h0M273.6 235.3h0M277.2 244.3h0" stroke="#3a08be" stroke-width="2.8" stroke-linecap="round" fill="none" opacity="1"/>
<path d="M97.4 57.9h0M100.8 57.7h0M104.2 57.6h0M121.1 69.5h0M124.5 69.2h0M131.3 178.0h0M134.7 176.4h0M138.1 174.7h0M141.4 172.9h0M90.6 229.2h0M94.0 228.3h0M97.4 227.5h0M100.8 226.5h0M104.2 225.5h0M107.6 224.4h0M165.2 196.7h0M168.6 194.9h0M171.9 193.2h0M175.3 191.5h0M178.7 189.8h0M182.1 187.9h0M185.5 185.8h0M188.9 183.6h0M192.3 181.4h0M195.7 179.1h0M199.1 176.8h0M202.4 174.4h0M205.8 172.0h0M226.2 156.7h0M229.6 154.0h0M94.0 245.4h0M97.4 243.9h0M110.9 295.3h0M114.3 294.7h0M117.7 293.9h0M232.9 233.1h0M236.3 232.6h0M239.7 232.2h0M243.1 231.9h0M246.5 231.9h0M333.3 34.2h0M262.8 233.9h0M264.6 234.1h0M266.4 234.4h0M268.2 234.7h0M279.1 244.7h0M280.9 245.2h0" stroke="#3a08be" stroke-width="3.0" stroke-linecap="round" fill="none" opacity="1"/>
<path d="M178.7 31.2h0M70.3 59.5h0M73.7 59.3h0M77.1 59.1h0M80.4 58.9h0M83.8 58.7h0M87.2 58.5h0M90.6 58.3h0M94.0 58.1h0M110.9 71.3h0M114.3 70.5h0M117.7 69.9h0M144.8 171.2h0M148.2 169.5h0M151.6 167.7h0M155.0 166.0h0M158.4 164.3h0M161.8 162.6h0M165.2 160.8h0M168.6 159.1h0M171.9 157.2h0M175.3 155.3h0M178.7 153.3h0M182.1 151.3h0M110.9 223.3h0M114.3 222.1h0M158.4 200.7h0M161.8 198.7h0M80.4 251.1h0M83.8 249.8h0M87.2 248.4h0M90.6 246.9h0M104.2 295.7h0M107.6 295.6h0M246.5 231.9h0M248.3 232.0h0M250.1 232.1h0M251.9 232.3h0M253.7 232.5h0M255.5 232.8h0M257.4 233.0h0M259.2 233.3h0M261.0 233.6h0M282.7 245.7h0" stroke="#3a08be" stroke-width="3.2" stroke-linecap="round" fill="none" opacity="1"/>
<path d="M50.0 60.4h0M53.3 60.3h0M56.7 60.2h0M60.1 60.1h0M63.5 59.9h0M66.9 59.7h0M97.4 74.6h0M100.8 73.9h0M104.2 73.1h0M107.6 72.2h0M185.5 149.3h0M188.9 147.4h0M192.3 145.7h0M195.7 144.1h0M199.1 142.7h0M202.4 141.5h0M205.8 140.3h0M209.2 139.2h0M212.6 138.2h0M216.0 137.2h0M219.4 136.3h0M222.8 135.5h0M226.2 134.8h0M229.6 134.2h0M232.9 133.7h0M284.5 246.3h0" stroke="#3a08be" stroke-width="3.4" stroke-linecap="round" fill="none" opacity="1"/>
<path d="M50.0 80.0h0M53.3 79.9h0M56.7 79.8h0M60.1 79.6h0M63.5 79.3h0M66.9 79.0h0M70.3 78.7h0M73.7 78.3h0M77.1 77.8h0M80.4 77.4h0M83.8 76.9h0M87.2 76.4h0M90.6 75.8h0M94.0 75.2h0M236.3 133.5h0M239.7 133.4h0M286.3 246.9h0M288.1 247.6h0" stroke="#3a08be" stroke-width="3.6" stroke-linecap="round" fill="none" opacity="1"/>
<path d="M243.1 133.5h0M246.5 133.8h0M289.9 248.4h0" stroke="#3a08be" stroke-width="3.8" stroke-linecap="round" fill="none" opacity="1"/>
<path d="M291.7 249.2h0M293.5 250.3h0" stroke="#3a08be" stroke-width="4.0" stroke-linecap="round" fill="none" opacity="1"/>
<path d="M295.3 251.5h0M297.1 252.9h0M298.9 254.3h0" stroke="#3a08be" stroke-width="4.2" stroke-linecap="round" fill="none" opacity="1"/>
</g>
<line x1="246.5" y1="24.4" x2="246.5" y2="341.2" stroke="#000" stroke-opacity="0.3" stroke-width="0.75"/>
<line x1="246.5" y1="341.2" x2="246.5" y2="344.4" stroke="#444" stroke-width="1"/>
<line x1="58.3" y1="130.3" x2="351.4" y2="130.3" stroke="#666" stroke-width="0.9" stroke-dasharray="2.2 4.4"/>
<rect x="51.5" y="118.9" width="297.8" height="20.7" fill="none" stroke="#000" stroke-width="1.8"/>
<path d="M46.8 24.4H352.0" stroke="#505050" stroke-width="1.1" fill="none"/>
<path d="M46.8 341.2H352.0" stroke="#6e6e6e" stroke-width="1.4" fill="none"/>
<path d="M49.95 24.4V343.8" stroke="#606060" stroke-width="1.7" fill="none"/>
<path d="M351.5 23.9V344.2" stroke="#444" stroke-width="1.2" fill="none"/>
<text x="42" y="29.6" font-size="14" text-anchor="end" fill="#111">2</text>
<text x="42" y="82.1" font-size="14" text-anchor="end" fill="#111">1</text>
<text x="42" y="134.5" font-size="14" text-anchor="end" fill="#111">0</text>
<text x="42" y="187.0" font-size="14" text-anchor="end" fill="#111">-1</text>
<text x="42" y="239.5" font-size="14" text-anchor="end" fill="#111">-2</text>
<text x="42" y="292.0" font-size="14" text-anchor="end" fill="#111">-3</text>
<text x="42" y="344.4" font-size="14" text-anchor="end" fill="#111">-4</text>
<path d="M50.0 24.6h-3.4M50.0 77.5h-3.4M50.0 130.2h-3.4M50.0 183.1h-3.4M50.0 235.9h-3.4M50.0 288.6h-3.4M50.0 341.4h-3.4M50.0 51.0h-2.2M50.0 103.8h-2.2M50.0 156.7h-2.2M50.0 209.4h-2.2M50.0 262.2h-2.2M50.0 315.1h-2.2" stroke="#1a1a1a" stroke-width="1"/>
<text x="50.6" y="362.6" font-size="16.5" text-anchor="middle" fill="#111">M</text>
<text x="246.5" y="362.6" font-size="16.5" text-anchor="middle" fill="#111">Γ</text>
<text x="351.4" y="362.6" font-size="16.5" text-anchor="middle" fill="#111">A</text>
<text transform="translate(14.6,199) rotate(-90)" font-size="16" fill="#111" textLength="66.4" lengthAdjust="spacing">E-E<tspan font-size="10.5" dy="1.6">F</tspan><tspan dy="-1.6"> (eV)</tspan></text>
<g fill="#e3161c" stroke="#e3161c" stroke-width="0.3">
<text x="208.2" y="16.4" font-size="17.5" textLength="9.4" lengthAdjust="spacingAndGlyphs">d</text><text x="218.4" y="19.8" font-size="11.5" textLength="12.2" lengthAdjust="spacingAndGlyphs">xy</text><text x="231.6" y="17.0" font-size="14.0">+</text><text x="243.0" y="16.4" font-size="17.5" textLength="9.4" lengthAdjust="spacingAndGlyphs">d</text><text x="253.1" y="19.8" font-size="11.5" textLength="6.2" lengthAdjust="spacingAndGlyphs">x</text><text x="260.9" y="14.7" font-size="5.5" stroke-width="0.1">2</text><text x="263.6" y="19.2" font-size="7.0" stroke-width="0.1">-</text><text x="265.7" y="19.8" font-size="11.5" textLength="6.3" lengthAdjust="spacingAndGlyphs">y</text><text x="273.3" y="14.7" font-size="5.5" stroke-width="0.1">2</text>
<text x="247.5" y="61.4" font-size="17.5" textLength="9.6" lengthAdjust="spacingAndGlyphs">d</text><text x="257.4" y="64.5" font-size="11.5" textLength="11.5" lengthAdjust="spacingAndGlyphs">xz</text><text x="268.8" y="61.3" font-size="15.5">+</text><text x="279.8" y="61.4" font-size="17.5" textLength="9.6" lengthAdjust="spacingAndGlyphs">d</text><text x="289.7" y="64.5" font-size="11.5" textLength="11.5" lengthAdjust="spacingAndGlyphs">yz</text>
<text x="303.0" y="187.4" font-size="16.5" textLength="8.8" lengthAdjust="spacingAndGlyphs">p</text><text x="312.3" y="190.9" font-size="10.8" textLength="5.5" lengthAdjust="spacingAndGlyphs">x</text><text x="318.8" y="187.8" font-size="10.0">+</text><text x="327.1" y="187.4" font-size="16.5" textLength="8.8" lengthAdjust="spacingAndGlyphs">p</text><text x="336.0" y="190.9" font-size="10.8" textLength="5.8" lengthAdjust="spacingAndGlyphs">y</text>
</g>
<g fill="#1f25e6" stroke="#1f25e6" stroke-width="0.3">
<text x="275.8" y="103.2" font-size="17.5" textLength="9.4" lengthAdjust="spacingAndGlyphs">d</text><text x="286.2" y="107.0" font-size="11.5" textLength="5.4" lengthAdjust="spacingAndGlyphs">z</text><text x="293.9" y="102.0" font-size="5.6" stroke-width="0.1">2</text>
<text x="322.9" y="308.4" font-size="17.8" textLength="9.3" lengthAdjust="spacingAndGlyphs">p</text><text x="333.1" y="312.5" font-size="12.4" textLength="5.2" lengthAdjust="spacingAndGlyphs">z</text>
</g>
<path d="M356.6 117.6L393.8 29.4M356.2 148L393.2 332.6" stroke="#111" stroke-width="1.3" fill="none"/>
<rect x="429.5" y="174.4" width="218.9" height="14.5" fill="#d9f7cc"/>
<line x1="429.5" y1="181.7" x2="648.4" y2="181.7" stroke="#6f8f6a" stroke-width="1" stroke-dasharray="5 4"/>
<line x1="572.2" y1="24.4" x2="572.2" y2="341.4" stroke="#9a9a9a" stroke-width="0.8"/>
<g clip-path="url(#cr)">
<polyline points="430.0,106.6 431.6,106.2 433.9,104.9 436.5,103.0 439.1,100.0 441.6,96.6 443.9,92.7 446.3,88.1 448.8,82.5 451.2,76.3 453.7,69.8 456.1,62.5 458.4,54.2 460.9,45.6 463.3,36.5 465.8,27.2" fill="none" stroke="#8a8a8a" stroke-width="0.7"/>
<polyline points="559.9,7.0 562.2,53.8 564.8,100.3 567.1,141.6 569.6,167.7 571.3,171.4 573.1,172.9 575.2,172.5 576.9,171.2 578.3,166.6 579.7,155.0 581.0,140.7 582.3,125.2 583.6,110.0 584.9,95.0 586.2,81.0 587.5,67.3 588.8,54.2 590.1,42.2 591.5,30.2 592.9,18.0" fill="none" stroke="#8a8a8a" stroke-width="0.7"/>
<polyline points="540.4,356.0 542.8,337.9 545.2,320.7 547.7,304.8 550.1,289.3 552.6,275.8 555.0,263.2 557.5,252.4 559.9,243.3 562.4,235.9 565.0,231.0 567.3,230.4 569.9,235.9 572.2,241.3 573.3,238.1 574.6,227.8 575.9,214.3 577.2,201.6 579.1,191.8 580.3,189.0 582.2,191.0 584.0,193.5 585.4,195.9 586.7,199.1 587.9,202.6 588.9,206.5 589.8,210.7 590.8,215.1 591.8,220.0 593.0,225.9 594.3,232.2 595.5,238.9 597.0,246.2 598.4,253.1 599.6,260.1 600.7,267.3 601.9,275.4 603.1,283.2 604.3,291.3 605.5,299.1 606.8,307.2 608.0,315.6 609.2,324.2 610.7,333.0 612.1,342.0" fill="none" stroke="#8a8a8a" stroke-width="0.7"/>
<circle cx="430.0" cy="106.6" r="1.25" fill="#6a00b0"/>
<circle cx="431.6" cy="106.2" r="1.25" fill="#6a00b0"/>
<circle cx="433.9" cy="104.9" r="1.25" fill="#6a00b0"/>
<circle cx="436.5" cy="103.0" r="1.25" fill="#6a00b0"/>
<circle cx="439.1" cy="100.0" r="1.25" fill="#6a00b0"/>
<circle cx="441.6" cy="96.6" r="1.25" fill="#6a00b0"/>
<circle cx="443.9" cy="92.7" r="1.25" fill="#6a00b0"/>
<circle cx="446.3" cy="88.1" r="1.25" fill="#6a00b0"/>
<circle cx="448.8" cy="82.5" r="1.25" fill="#6a00b0"/>
<circle cx="451.2" cy="76.3" r="1.25" fill="#6a00b0"/>
<circle cx="453.7" cy="69.8" r="1.25" fill="#6a00b0"/>
<circle cx="456.1" cy="62.5" r="1.25" fill="#6a00b0"/>
<circle cx="458.4" cy="54.2" r="1.25" fill="#6a00b0"/>
<circle cx="460.9" cy="45.6" r="1.25" fill="#6a00b0"/>
<circle cx="463.3" cy="36.5" r="1.25" fill="#6a00b0"/>
<circle cx="465.8" cy="27.2" r="1.25" fill="#6a00b0"/>
<circle cx="580.3" cy="189.0" r="2.75" fill="#f23038"/>
<circle cx="582.2" cy="191.0" r="2.75" fill="#f23038"/>
<circle cx="584.0" cy="193.5" r="2.75" fill="#f23038"/>
<circle cx="585.4" cy="195.9" r="2.75" fill="#f23038"/>
<circle cx="586.7" cy="199.1" r="2.75" fill="#f23038"/>
<circle cx="587.9" cy="202.6" r="2.75" fill="#f23038"/>
<circle cx="588.9" cy="206.5" r="2.75" fill="#f23038"/>
<circle cx="589.8" cy="210.7" r="2.75" fill="#f23038"/>
<circle cx="590.8" cy="215.1" r="2.75" fill="#f23038"/>
<circle cx="591.8" cy="220.0" r="2.75" fill="#f23038"/>
<circle cx="593.0" cy="225.9" r="2.75" fill="#f23038"/>
<circle cx="594.3" cy="232.2" r="2.75" fill="#f23038"/>
<circle cx="595.5" cy="238.9" r="2.75" fill="#f23038"/>
<circle cx="597.0" cy="246.2" r="2.75" fill="#f23038"/>
<circle cx="598.4" cy="253.1" r="2.75" fill="#f23038"/>
<circle cx="599.6" cy="260.1" r="2.75" fill="#f23038"/>
<circle cx="600.7" cy="267.3" r="2.75" fill="#f23038"/>
<circle cx="601.9" cy="275.4" r="2.75" fill="#f23038"/>
<circle cx="603.1" cy="283.2" r="2.75" fill="#f23038"/>
<circle cx="604.3" cy="291.3" r="2.75" fill="#f23038"/>
<circle cx="605.5" cy="299.1" r="2.75" fill="#f23038"/>
<circle cx="606.8" cy="307.2" r="2.75" fill="#f23038"/>
<circle cx="608.0" cy="315.6" r="2.75" fill="#f23038"/>
<circle cx="609.2" cy="324.2" r="2.75" fill="#f23038"/>
<circle cx="610.7" cy="333.0" r="2.75" fill="#f23038"/>
<circle cx="612.1" cy="342.0" r="2.75" fill="#f23038"/>
<circle cx="580.1" cy="188.6" r="2.9" fill="#f5a030"/><circle cx="580.4" cy="189.3" r="2.5" fill="#f23038"/>
<circle cx="559.9" cy="7.0" r="2.20" fill="#f0283a"/>
<circle cx="562.2" cy="53.8" r="2.20" fill="#f0283a"/>
<circle cx="564.8" cy="100.3" r="2.50" fill="#f0283a"/>
<circle cx="567.1" cy="141.6" r="2.50" fill="#f0283a"/>
<circle cx="569.6" cy="167.7" r="2.80" fill="#f01828"/>
<circle cx="562.2" cy="53.8" r="0.80" fill="#b02080"/>
<circle cx="564.8" cy="100.3" r="0.80" fill="#b02080"/>
<circle cx="571.3" cy="171.4" r="2.60" fill="#f01020"/>
<circle cx="573.1" cy="172.9" r="2.60" fill="#f01020"/>
<circle cx="575.2" cy="172.5" r="2.60" fill="#f01020"/>
<circle cx="576.9" cy="171.2" r="2.40" fill="#f01020"/>
<circle cx="576.9" cy="171.2" r="1.30" fill="#6010c0"/>
<circle cx="578.3" cy="166.6" r="2.30" fill="#f02030"/>
<circle cx="578.3" cy="166.6" r="1.85" fill="#1c14e0"/>
<circle cx="579.7" cy="155.0" r="1.85" fill="#1c14e0"/>
<circle cx="581.0" cy="140.7" r="1.85" fill="#1c14e0"/>
<circle cx="582.3" cy="125.2" r="1.85" fill="#1c14e0"/>
<circle cx="583.6" cy="110.0" r="1.85" fill="#1c14e0"/>
<circle cx="584.9" cy="95.0" r="1.85" fill="#1c14e0"/>
<circle cx="586.2" cy="81.0" r="1.85" fill="#1c14e0"/>
<circle cx="587.5" cy="67.3" r="1.85" fill="#1c14e0"/>
<circle cx="588.8" cy="54.2" r="1.85" fill="#1c14e0"/>
<circle cx="590.1" cy="42.2" r="1.85" fill="#1c14e0"/>
<circle cx="591.5" cy="30.2" r="1.85" fill="#1c14e0"/>
<circle cx="592.9" cy="18.0" r="1.85" fill="#1c14e0"/>
<circle cx="579.1" cy="191.8" r="2.40" fill="#f02030"/>
<circle cx="579.1" cy="191.8" r="2.00" fill="#2010e0"/>
<circle cx="577.2" cy="201.6" r="2.00" fill="#2010e0"/>
<circle cx="575.9" cy="214.3" r="2.00" fill="#2010e0"/>
<circle cx="574.6" cy="227.8" r="2.00" fill="#2010e0"/>
<circle cx="573.3" cy="238.1" r="2.00" fill="#2010e0"/>
<circle cx="572.2" cy="241.3" r="2.00" fill="#2010e0"/>
<circle cx="569.9" cy="235.9" r="1.90" fill="#4408c8"/>
<circle cx="567.3" cy="230.4" r="1.90" fill="#4408c8"/>
<circle cx="565.0" cy="231.0" r="1.90" fill="#4408c8"/>
<circle cx="562.4" cy="235.9" r="1.90" fill="#4408c8"/>
<circle cx="559.9" cy="243.3" r="1.90" fill="#4408c8"/>
<circle cx="557.5" cy="252.4" r="1.90" fill="#4408c8"/>
<circle cx="555.0" cy="263.2" r="1.90" fill="#4408c8"/>
<circle cx="552.6" cy="275.8" r="1.90" fill="#4408c8"/>
<circle cx="550.1" cy="289.3" r="1.90" fill="#4408c8"/>
<circle cx="547.7" cy="304.8" r="1.90" fill="#4408c8"/>
<circle cx="545.2" cy="320.7" r="1.90" fill="#4408c8"/>
<circle cx="542.8" cy="337.9" r="1.90" fill="#4408c8"/>
<circle cx="540.4" cy="356.0" r="1.90" fill="#4408c8"/>
</g>
<path d="M426.2 24.4H648.4" stroke="#444" stroke-width="1" fill="none"/>
<path d="M426.2 338.9H648.4" stroke="#707070" stroke-width="1.3" fill="none"/>
<path d="M429.5 24.4V341.9" stroke="#444" stroke-width="1.1" fill="none"/>
<path d="M648.4 23.9V341.4" stroke="#333" stroke-width="1.1" fill="none"/>
<text x="421.9" y="28.9" font-size="11.8" text-anchor="end" fill="#111">0.20</text>
<text x="421.9" y="68.1" font-size="11.8" text-anchor="end" fill="#111">0.15</text>
<text x="421.9" y="107.3" font-size="11.8" text-anchor="end" fill="#111">0.10</text>
<text x="421.9" y="146.5" font-size="11.8" text-anchor="end" fill="#111">0.05</text>
<text x="421.9" y="185.7" font-size="11.8" text-anchor="end" fill="#111">0.00</text>
<text x="421.9" y="224.9" font-size="11.8" text-anchor="end" fill="#111">-0.05</text>
<text x="421.9" y="264.1" font-size="11.8" text-anchor="end" fill="#111">-0.10</text>
<text x="421.9" y="303.3" font-size="11.8" text-anchor="end" fill="#111">-0.15</text>
<text x="421.9" y="342.5" font-size="11.8" text-anchor="end" fill="#111">-0.20</text>
<path d="M429.5 24.4h-4M429.5 63.7h-4M429.5 103.0h-4M429.5 142.3h-4M429.5 181.7h-4M429.5 221.0h-4M429.5 260.3h-4M429.5 299.6h-4M429.5 338.9h-4M429.5 44.1h-2.2M429.5 83.4h-2.2M429.5 122.7h-2.2M429.5 162.0h-2.2M429.5 201.3h-2.2M429.5 240.6h-2.2M429.5 279.9h-2.2M429.5 319.2h-2.2" stroke="#333" stroke-width="1"/>
<text x="429.4" y="355.6" font-size="12" text-anchor="middle" fill="#111">M</text>
<text x="572.2" y="355.6" font-size="12" text-anchor="middle" fill="#111">Γ</text>
<text x="648" y="355.6" font-size="12" text-anchor="middle" fill="#111">A</text>
<text transform="translate(388.3,190.7) rotate(-90)" font-size="14" fill="#111" textLength="58.8" lengthAdjust="spacing">E-E<tspan font-size="9" dy="1.2">F</tspan><tspan dy="-1.2"> (eV)</tspan></text>
<rect x="441.4" y="116.5" width="105.8" height="49" fill="#fff" stroke="#999" stroke-width="1"/>
<circle cx="452.6" cy="127.5" r="5.6" fill="#0a3cff" stroke="#123" stroke-width="0.6"/>
<circle cx="452.6" cy="154.1" r="5.6" fill="#ff3030" stroke="#411" stroke-width="0.6"/>
<text x="465.6" y="131" font-size="12.4" fill="#111" stroke="#111" stroke-width="0.45" textLength="70" lengthAdjust="spacingAndGlyphs">Out-of-plane</text>
<text x="465.6" y="157.4" font-size="12.4" fill="#111" stroke="#111" stroke-width="0.45" textLength="44.4" lengthAdjust="spacingAndGlyphs">In-plane</text>
<g fill="#1f25e6" stroke="#1f25e6" stroke-width="0.3">
<text x="595.5" y="121.0" font-size="13.5" textLength="7.8" lengthAdjust="spacingAndGlyphs">~</text><text x="609.2" y="120.5" font-size="23.0" textLength="11.2" lengthAdjust="spacingAndGlyphs">d</text><text x="620.8" y="124.2" font-size="14.8" textLength="6.4" lengthAdjust="spacingAndGlyphs">z</text><text x="629.7" y="118.2" font-size="6.5" stroke-width="0.1">2</text>
</g><g fill="#e3161c" stroke="#e3161c" stroke-width="0.3">
<text x="590.6" y="208.4" font-size="13.0" textLength="7.6" lengthAdjust="spacingAndGlyphs">~</text><text x="601.9" y="207.2" font-size="18.0" textLength="9.3" lengthAdjust="spacingAndGlyphs">p</text><text x="611.5" y="211.0" font-size="11.5" textLength="5.9" lengthAdjust="spacingAndGlyphs">x</text><text x="619.4" y="205.8" font-size="10.0">+</text><text x="627.7" y="207.2" font-size="18.0" textLength="9.3" lengthAdjust="spacingAndGlyphs">p</text><text x="637.1" y="211.0" font-size="11.5" textLength="6.1" lengthAdjust="spacingAndGlyphs">y</text>
</g>
<text x="653.2" y="89.3" font-size="21" fill="#111" textLength="31.2" lengthAdjust="spacingAndGlyphs">Mn</text>
<text x="657" y="286.8" font-size="20" fill="#111">Bi</text>
<path d="M665 149.8V114" stroke="#111" stroke-width="1.3"/><path d="M665 107.8l-3 9.6h6z" fill="#111"/>
<path d="M665.6 215.3V252" stroke="#111" stroke-width="1.3"/><path d="M665.6 258.4l-3 -9.6h6z" fill="#111"/>
</svg>
</body></html>
